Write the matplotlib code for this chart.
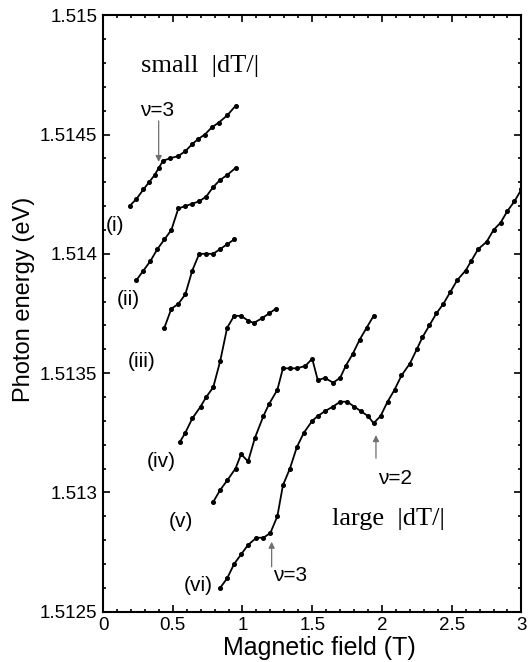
import matplotlib
matplotlib.use("Agg")
import matplotlib.pyplot as plt
from matplotlib.ticker import MultipleLocator, FixedLocator

# ---- data ----
x_i = [0.19, 0.24, 0.29, 0.33, 0.37, 0.40, 0.43, 0.48, 0.54, 0.59, 0.64, 0.68, 0.73, 0.78, 0.83, 0.89, 0.95]
y_i = [1.51420, 1.51423, 1.51427, 1.51430, 1.51433, 1.51436, 1.51439, 1.51440, 1.51441, 1.51443,
       1.51446, 1.51448, 1.51450, 1.51453, 1.51455, 1.51458, 1.51462]

x_ii = [0.24, 0.29, 0.34, 0.39, 0.44, 0.49, 0.54, 0.59, 0.64, 0.69, 0.74, 0.79, 0.84, 0.89, 0.95]
y_ii = [1.51389, 1.51393, 1.51397, 1.51402, 1.51406, 1.51410, 1.51419, 1.51420, 1.51421, 1.51422,
        1.51424, 1.51428, 1.51431, 1.51433, 1.51436]

x_iii = [0.44, 0.49, 0.54, 0.59, 0.64, 0.69, 0.74, 0.79, 0.84, 0.89, 0.94]
y_iii = [1.51369, 1.51377, 1.51379, 1.51383, 1.51393, 1.51400, 1.51400, 1.51400, 1.51402, 1.51404, 1.51406]

x_iv = [0.55, 0.59, 0.64, 0.70, 0.74, 0.79, 0.84, 0.89, 0.94, 0.99, 1.04, 1.08, 1.14, 1.19, 1.24]
y_iv = [1.51321, 1.51325, 1.51331, 1.51336, 1.51340, 1.51344, 1.51355, 1.51369, 1.51374, 1.51374,
        1.51372, 1.51371, 1.51373, 1.51375, 1.51377]

x_v = [0.79, 0.84, 0.89, 0.95, 0.99, 1.04, 1.09, 1.15, 1.19, 1.25, 1.29, 1.34, 1.39, 1.45, 1.50,
       1.54, 1.59, 1.65, 1.70, 1.74, 1.79, 1.84, 1.89, 1.94]
y_v = [1.51296, 1.51301, 1.51305, 1.51310, 1.51316, 1.51313, 1.51323, 1.51332, 1.51337, 1.51343,
       1.51352, 1.51352, 1.51352, 1.51353, 1.51356, 1.51347, 1.51348, 1.51346, 1.51348, 1.51353,
       1.51358, 1.51364, 1.51369, 1.51374]

x_vi = [0.84, 0.89, 0.94, 0.99, 1.04, 1.10, 1.15, 1.20, 1.25, 1.29, 1.34, 1.39, 1.44, 1.50, 1.54,
        1.59, 1.65, 1.70, 1.75, 1.80, 1.85, 1.90, 1.94, 1.99, 2.04, 2.09, 2.14, 2.20, 2.25, 2.29,
        2.34, 2.39, 2.44, 2.49, 2.54, 2.60, 2.64, 2.69, 2.75, 2.80, 2.85, 2.90, 2.95, 3.00]
y_vi = [1.51260, 1.51264, 1.51270, 1.51274, 1.51278, 1.51281, 1.51281, 1.51283, 1.51290, 1.51303,
        1.51310, 1.51319, 1.51325, 1.51330, 1.51332, 1.51334, 1.51336, 1.51338, 1.51338, 1.51336,
        1.51334, 1.51332, 1.51329, 1.51332, 1.51338, 1.51343, 1.51349, 1.51354, 1.51360, 1.51365,
        1.51370, 1.51375, 1.51379, 1.51384, 1.51389, 1.51393, 1.51397, 1.51402, 1.51405, 1.51410,
        1.51413, 1.51418, 1.51422, 1.51427]

curve_labels = ["(i)", "(ii)", "(iii)", "(iv)", "(v)", "(vi)"]
label_pos = [(0.086, 1.51412), (0.179, 1.51381), (0.280, 1.51355), (0.416, 1.51313), (0.559, 1.51288), (0.681, 1.51261)]

x_ticks = [0, 0.5, 1, 1.5, 2, 2.5, 3]
x_ticklabels = ["0", "0.5", "1", "1.5", "2", "2.5", "3"]
y_ticks = [1.5125, 1.513, 1.5135, 1.514, 1.5145, 1.515]
y_ticklabels = ["1.5125", "1.513", "1.5135", "1.514", "1.5145", "1.515"]

plt.rcParams['font.family'] = ['Liberation Sans', 'DejaVu Sans']

fig = plt.figure(figsize=(5.31, 6.62), dpi=100)
ax = fig.add_axes([0.194, 0.076, 0.788, 0.901])

for xs, ys in [(x_i, y_i), (x_ii, y_ii), (x_iii, y_iii), (x_iv, y_iv), (x_v, y_v), (x_vi, y_vi)]:
    ax.plot(xs, ys, color='black', lw=1.3, marker='o', ms=2.6, mfc='black', mec='black')

for lab, (lx, ly) in zip(curve_labels, label_pos):
    ax.text(lx, ly, lab, fontsize=15, ha='center', va='center')

ax.set_xlim(0, 3)
ax.set_ylim(1.5125, 1.515)
ax.xaxis.set_major_locator(FixedLocator(x_ticks))
ax.set_xticklabels(x_ticklabels)
ax.yaxis.set_major_locator(FixedLocator(y_ticks))
ax.set_yticklabels(y_ticklabels)
ax.xaxis.set_minor_locator(MultipleLocator(0.1))
ax.yaxis.set_minor_locator(MultipleLocator(0.0001))
ax.tick_params(which='both', direction='in', top=True, right=True, width=1.2)
ax.tick_params(which='major', length=5, labelsize=13.5, pad=4)
ax.tick_params(which='minor', length=2.5)
for s in ax.spines.values():
    s.set_linewidth(1.5)

ax.set_xlabel("Magnetic field (T)", fontsize=18, labelpad=1)
ax.xaxis.label.set_x(0.518)
ax.set_ylabel("Photon energy (eV)", fontsize=17)
ax.yaxis.set_label_coords(-0.162, 0.523)

# annotations: vertical thin arrows + labels
arrow_kw = dict(arrowstyle='-|>', color='#6f6f6f', lw=0.9, mutation_scale=9, shrinkA=0, shrinkB=0)
ax.annotate("", xy=(0.399, 1.514385), xytext=(0.399, 1.514557), arrowprops=arrow_kw)
ax.text(0.391, 1.514602, "ν=3", fontsize=15, ha='center', va='center')

ax.annotate("", xy=(1.209, 1.512793), xytext=(1.209, 1.512688), arrowprops=arrow_kw)
ax.text(1.219, 1.512653, "ν=3", fontsize=15, ha='left', va='center')

ax.annotate("", xy=(1.957, 1.51324), xytext=(1.957, 1.513143), arrowprops=arrow_kw)
ax.text(1.97, 1.51306, "ν=2", fontsize=15, ha='left', va='center')

serif = ['Liberation Serif', 'DejaVu Serif']
ax.text(0.27, 1.51476, "small  |dT/|", fontsize=19, family=serif, ha='left', va='baseline')
ax.text(1.64, 1.512863, "large  |dT/|", fontsize=19, family=serif, ha='left', va='baseline')

fig.savefig("out.png", dpi=100)
